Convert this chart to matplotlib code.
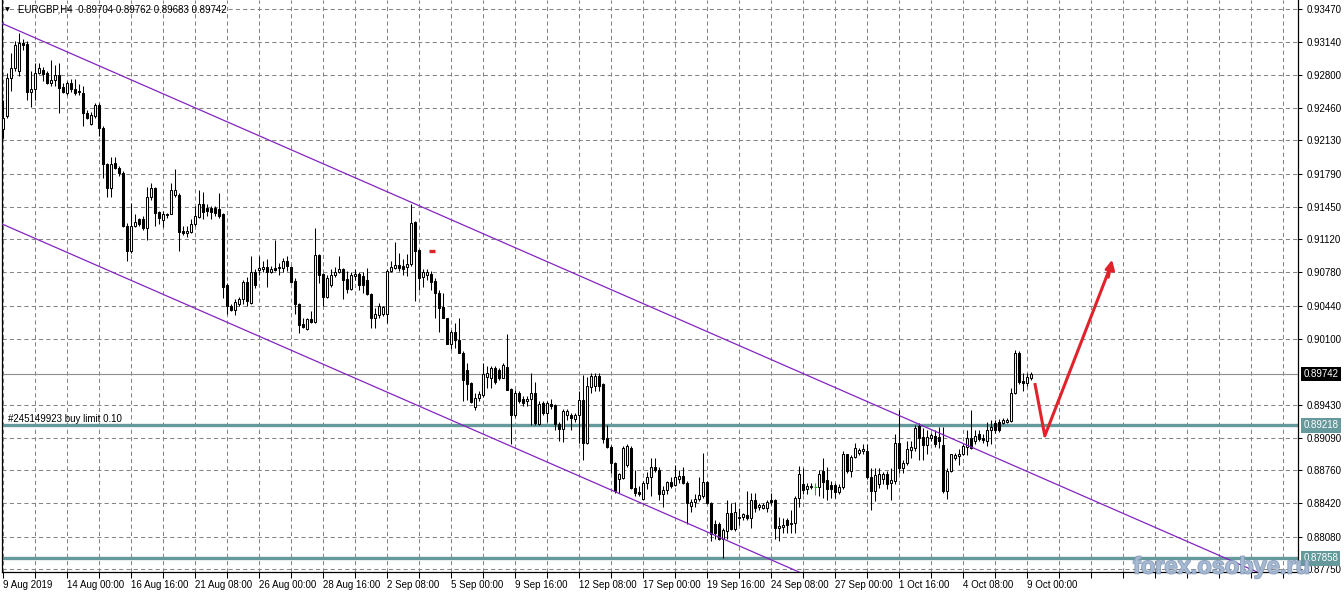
import matplotlib
matplotlib.use("Agg")
import matplotlib.pyplot as plt
import numpy as np
from matplotlib.transforms import blended_transform_factory
import matplotlib.patheffects as pe

plt.rcParams['font.family'] = ['Liberation Sans', 'DejaVu Sans']

title_text = "EURGBP,H4  0.89704 0.89762 0.89683 0.89742"
order_text = "#245149923 buy limit 0.10"
watermark = "forex.osobye.ru"

opens = [
0.9225, 0.9238, 0.9277, 0.9287, 0.9284, 0.9313, 0.9312, 0.9262, 0.9266, 0.9282,
0.9285, 0.9282, 0.9272, 0.9275, 0.9280, 0.9268, 0.9261, 0.9272, 0.9266, 0.9262,
0.9261, 0.9241, 0.9230, 0.9238, 0.9249, 0.9226, 0.9189, 0.9164, 0.9190, 0.9185,
0.9180, 0.9126, 0.9100, 0.9126, 0.9133, 0.9133, 0.9123, 0.9155, 0.9164, 0.9140,
0.9132, 0.9137, 0.9138, 0.9157, 0.9157, 0.9120, 0.9118, 0.9119, 0.9128, 0.9135,
0.9148, 0.9144, 0.9144, 0.9144, 0.9143, 0.9138, 0.9065, 0.9044, 0.9040, 0.9046,
0.9051, 0.9068, 0.9047, 0.9079, 0.9081, 0.9082, 0.9084, 0.9078, 0.9083, 0.9083,
0.9083, 0.9090, 0.9084, 0.9069, 0.9046, 0.9025, 0.9020, 0.9030, 0.9027, 0.9096,
0.9076, 0.9053, 0.9065, 0.9075, 0.9079, 0.9082, 0.9071, 0.9061, 0.9074, 0.9076,
0.9074, 0.9070, 0.9056, 0.9031, 0.9035, 0.9036, 0.9036, 0.9080, 0.9083, 0.9086,
0.9085, 0.9084, 0.9087, 0.9130, 0.9101, 0.9073, 0.9075, 0.9076, 0.9069, 0.9057,
0.9043, 0.9031, 0.9005, 0.9017, 0.9009, 0.8996, 0.8978, 0.8965, 0.8941, 0.8950,
0.8953, 0.8971, 0.8970, 0.8980, 0.8978, 0.8970, 0.8981, 0.8959, 0.8932, 0.8955,
0.8949, 0.8947, 0.8949, 0.8955, 0.8923, 0.8945, 0.8934, 0.8944, 0.8943, 0.8923,
0.8918, 0.8932, 0.8932, 0.8928, 0.8932, 0.8948, 0.8904, 0.8961, 0.8962, 0.8972,
0.8964, 0.8909, 0.8900, 0.8883, 0.8867, 0.8868, 0.8881, 0.8899, 0.8858, 0.8854,
0.8846, 0.8863, 0.8869, 0.8879, 0.8876, 0.8852, 0.8856, 0.8864, 0.8861, 0.8867,
0.8870, 0.8863, 0.8839, 0.8843, 0.8846, 0.8850, 0.8864, 0.8842, 0.8821, 0.8821,
0.8806, 0.8814, 0.8832, 0.8816, 0.8827, 0.8828, 0.8830, 0.8827, 0.8845, 0.8838,
0.8837, 0.8837, 0.8845, 0.8845, 0.8817, 0.8818, 0.8825, 0.8821, 0.8822, 0.8848,
0.8862, 0.8857, 0.8859, 0.8859, 0.8859, 0.8875, 0.8866, 0.8861, 0.8861, 0.8854,
0.8859, 0.8892, 0.8875, 0.8889, 0.8894, 0.8896, 0.8896, 0.8869, 0.8855, 0.8862,
0.8867, 0.8872, 0.8863, 0.8865, 0.8904, 0.8878, 0.8883, 0.8897, 0.8899, 0.8921,
0.8910, 0.8902, 0.8909, 0.8911, 0.8910, 0.8902, 0.8855, 0.8875, 0.8888, 0.8890,
0.8893, 0.8900, 0.8909, 0.8906, 0.8913, 0.8909, 0.8906, 0.8917, 0.8924, 0.8925,
0.8924, 0.8925, 0.8926, 0.8955, 0.8996, 0.8967, 0.8965, 0.89704,
]

highs = [
0.9254, 0.9282, 0.9302, 0.9315, 0.9323, 0.9317, 0.9315, 0.9284, 0.9292, 0.9292,
0.9288, 0.9284, 0.9295, 0.9290, 0.9292, 0.9272, 0.9274, 0.9276, 0.9276, 0.9271,
0.9269, 0.9244, 0.9242, 0.9251, 0.9251, 0.9228, 0.9190, 0.9196, 0.9196, 0.9187,
0.9182, 0.9129, 0.9149, 0.9138, 0.9134, 0.9136, 0.9165, 0.9169, 0.9165, 0.9141,
0.9141, 0.9139, 0.9169, 0.9184, 0.9159, 0.9126, 0.9126, 0.9133, 0.9146, 0.9162,
0.9160, 0.9148, 0.9146, 0.9146, 0.9159, 0.9139, 0.9067, 0.9046, 0.9051, 0.9053,
0.9070, 0.9073, 0.9095, 0.9082, 0.9095, 0.9090, 0.9092, 0.9085, 0.9111, 0.9088,
0.9093, 0.9095, 0.9085, 0.9072, 0.9047, 0.9031, 0.9031, 0.9039, 0.9123, 0.9097,
0.9077, 0.9075, 0.9082, 0.9084, 0.9095, 0.9083, 0.9080, 0.9078, 0.9082, 0.9078,
0.9078, 0.9083, 0.9057, 0.9042, 0.9047, 0.9044, 0.9082, 0.9090, 0.9109, 0.9098,
0.9092, 0.9097, 0.9148, 0.9131, 0.9102, 0.9082, 0.9082, 0.9080, 0.9072, 0.9060,
0.9057, 0.9032, 0.9019, 0.9026, 0.9031, 0.8998, 0.8986, 0.8966, 0.8955, 0.8957,
0.8986, 0.8982, 0.8982, 0.8982, 0.8980, 0.8986, 0.9015, 0.8960, 0.8958, 0.8957,
0.8952, 0.8952, 0.8975, 0.8966, 0.8947, 0.8947, 0.8947, 0.8949, 0.8944, 0.8925,
0.8938, 0.8939, 0.8934, 0.8934, 0.8957, 0.8973, 0.8971, 0.8975, 0.8975, 0.8975,
0.8965, 0.8922, 0.8902, 0.8884, 0.8873, 0.8901, 0.8903, 0.8901, 0.8876, 0.8860,
0.8865, 0.8874, 0.8888, 0.8888, 0.8879, 0.8860, 0.8865, 0.8869, 0.8881, 0.8876,
0.8879, 0.8865, 0.8847, 0.8852, 0.8869, 0.8894, 0.8865, 0.8843, 0.8825, 0.8823,
0.8817, 0.8845, 0.8842, 0.8843, 0.8837, 0.8832, 0.8855, 0.8853, 0.8853, 0.8842,
0.8842, 0.8845, 0.8853, 0.8847, 0.8828, 0.8827, 0.8827, 0.8835, 0.8850, 0.8880,
0.8878, 0.8863, 0.8863, 0.8863, 0.8876, 0.8888, 0.8879, 0.8865, 0.8863, 0.8862,
0.8896, 0.8893, 0.8891, 0.8904, 0.8899, 0.8903, 0.8903, 0.8878, 0.8878, 0.8878,
0.8874, 0.8875, 0.8878, 0.8913, 0.8937, 0.8886, 0.8906, 0.8906, 0.8922, 0.8924,
0.8919, 0.8917, 0.8914, 0.8917, 0.8920, 0.8920, 0.8878, 0.8893, 0.8894, 0.8898,
0.8903, 0.8917, 0.8937, 0.8917, 0.8917, 0.8913, 0.8925, 0.8927, 0.8927, 0.8928,
0.8929, 0.8929, 0.8960, 0.8999, 0.8998, 0.8975, 0.8975, 0.89762,
]

lows = [
0.9215, 0.9236, 0.9264, 0.9284, 0.9279, 0.9305, 0.9254, 0.9247, 0.9254, 0.9281,
0.9274, 0.9271, 0.9269, 0.9269, 0.9241, 0.9261, 0.9259, 0.9262, 0.9259, 0.9259,
0.9228, 0.9235, 0.9229, 0.9236, 0.9218, 0.9175, 0.9155, 0.9155, 0.9184, 0.9177,
0.9124, 0.9090, 0.9098, 0.9124, 0.9126, 0.9121, 0.9111, 0.9152, 0.9126, 0.9128,
0.9124, 0.9134, 0.9138, 0.9155, 0.9100, 0.9116, 0.9114, 0.9118, 0.9126, 0.9134,
0.9133, 0.9136, 0.9133, 0.9136, 0.9134, 0.9052, 0.9036, 0.9039, 0.9035, 0.9044,
0.9046, 0.9044, 0.9046, 0.9062, 0.9075, 0.9078, 0.9063, 0.9077, 0.9080, 0.9075,
0.9078, 0.9080, 0.9067, 0.9036, 0.9016, 0.9021, 0.9019, 0.9026, 0.9026, 0.9067,
0.9044, 0.9052, 0.9063, 0.9073, 0.9077, 0.9051, 0.9057, 0.9060, 0.9070, 0.9060,
0.9057, 0.9055, 0.9021, 0.9021, 0.9031, 0.9034, 0.9026, 0.9078, 0.9082, 0.9080,
0.9075, 0.9074, 0.9085, 0.9049, 0.9060, 0.9063, 0.9070, 0.9060, 0.9032, 0.9017,
0.9031, 0.9005, 0.9000, 0.9001, 0.8996, 0.8947, 0.8948, 0.8945, 0.8937, 0.8947,
0.8951, 0.8960, 0.8960, 0.8964, 0.8968, 0.8970, 0.8958, 0.8903, 0.8930, 0.8945,
0.8942, 0.8942, 0.8922, 0.8922, 0.8922, 0.8932, 0.8925, 0.8939, 0.8917, 0.8906,
0.8905, 0.8927, 0.8917, 0.8925, 0.8904, 0.8886, 0.8903, 0.8955, 0.8957, 0.8957,
0.8904, 0.8899, 0.8873, 0.8853, 0.8853, 0.8867, 0.8879, 0.8857, 0.8850, 0.8850,
0.8845, 0.8857, 0.8850, 0.8874, 0.8845, 0.8838, 0.8852, 0.8858, 0.8860, 0.8863,
0.8862, 0.8821, 0.8833, 0.8838, 0.8844, 0.8848, 0.8841, 0.8804, 0.8806, 0.8805,
0.8786, 0.8806, 0.8815, 0.8814, 0.8820, 0.8825, 0.8825, 0.8817, 0.8833, 0.8835,
0.8836, 0.8833, 0.8840, 0.8806, 0.8804, 0.8812, 0.8812, 0.8812, 0.8812, 0.8838,
0.8852, 0.8852, 0.8857, 0.8851, 0.8850, 0.8848, 0.8845, 0.8848, 0.8848, 0.8852,
0.8857, 0.8873, 0.8869, 0.8888, 0.8891, 0.8893, 0.8867, 0.8835, 0.8844, 0.8858,
0.8862, 0.8857, 0.8845, 0.8862, 0.8873, 0.8873, 0.8881, 0.8888, 0.8896, 0.8886,
0.8886, 0.8892, 0.8906, 0.8900, 0.8899, 0.8853, 0.8846, 0.8874, 0.8886, 0.8881,
0.8891, 0.8891, 0.8898, 0.8903, 0.8906, 0.8904, 0.8901, 0.8903, 0.8914, 0.8915,
0.8923, 0.8924, 0.8925, 0.8954, 0.8964, 0.8957, 0.8962, 0.89683,
]

closes = [
0.9236, 0.9277, 0.9287, 0.9310, 0.9313, 0.9310, 0.9262, 0.9266, 0.9282, 0.9287,
0.9281, 0.9272, 0.9275, 0.9280, 0.9267, 0.9262, 0.9272, 0.9266, 0.9261, 0.9264,
0.9241, 0.9236, 0.9239, 0.9249, 0.9226, 0.9189, 0.9164, 0.9189, 0.9185, 0.9180,
0.9126, 0.9100, 0.9126, 0.9130, 0.9128, 0.9123, 0.9155, 0.9164, 0.9139, 0.9134,
0.9138, 0.9138, 0.9162, 0.9162, 0.9119, 0.9118, 0.9120, 0.9128, 0.9136, 0.9148,
0.9140, 0.9141, 0.9140, 0.9139, 0.9136, 0.9063, 0.9044, 0.9040, 0.9048, 0.9051,
0.9068, 0.9049, 0.9079, 0.9065, 0.9083, 0.9084, 0.9078, 0.9082, 0.9081, 0.9084,
0.9090, 0.9085, 0.9068, 0.9046, 0.9024, 0.9022, 0.9030, 0.9027, 0.9096, 0.9075,
0.9053, 0.9072, 0.9075, 0.9079, 0.9082, 0.9070, 0.9061, 0.9075, 0.9076, 0.9065,
0.9065, 0.9056, 0.9031, 0.9036, 0.9044, 0.9043, 0.9080, 0.9084, 0.9086, 0.9083,
0.9082, 0.9087, 0.9129, 0.9100, 0.9072, 0.9078, 0.9078, 0.9068, 0.9057, 0.9042,
0.9031, 0.9005, 0.9017, 0.9009, 0.8996, 0.8968, 0.8964, 0.8946, 0.8950, 0.8954,
0.8974, 0.8975, 0.8980, 0.8966, 0.8970, 0.8983, 0.8958, 0.8932, 0.8955, 0.8947,
0.8945, 0.8949, 0.8955, 0.8924, 0.8944, 0.8934, 0.8945, 0.8942, 0.8923, 0.8918,
0.8936, 0.8936, 0.8929, 0.8932, 0.8948, 0.8904, 0.8962, 0.8972, 0.8972, 0.8962,
0.8908, 0.8900, 0.8883, 0.8855, 0.8872, 0.8899, 0.8901, 0.8858, 0.8853, 0.8852,
0.8863, 0.8869, 0.8879, 0.8876, 0.8852, 0.8856, 0.8864, 0.8860, 0.8869, 0.8870,
0.8863, 0.8842, 0.8843, 0.8847, 0.8851, 0.8864, 0.8842, 0.8811, 0.8812, 0.8806,
0.8815, 0.8832, 0.8816, 0.8833, 0.8828, 0.8831, 0.8827, 0.8845, 0.8837, 0.8840,
0.8840, 0.8843, 0.8843, 0.8817, 0.8819, 0.8820, 0.8820, 0.8822, 0.8848, 0.8872,
0.8856, 0.8860, 0.8860, 0.8859, 0.8872, 0.8864, 0.8857, 0.8857, 0.8854, 0.8859,
0.8892, 0.8875, 0.8889, 0.8899, 0.8897, 0.8898, 0.8869, 0.8855, 0.8871, 0.8872,
0.8872, 0.8862, 0.8866, 0.8904, 0.8878, 0.8883, 0.8898, 0.8900, 0.8919, 0.8909,
0.8902, 0.8910, 0.8912, 0.8903, 0.8906, 0.8855, 0.8875, 0.8892, 0.8891, 0.8893,
0.8901, 0.8909, 0.8899, 0.8911, 0.8908, 0.8907, 0.8917, 0.8920, 0.8917, 0.8917,
0.8927, 0.8927, 0.8955, 0.8996, 0.8966, 0.8965, 0.8971, 0.89742,
]

price_ticks = [0.93470, 0.93140, 0.92800, 0.92460, 0.92130, 0.91790, 0.91450,
               0.91120, 0.90780, 0.90440, 0.90100, 0.89430, 0.89090, 0.88760,
               0.88420, 0.88080, 0.87750]
date_labels = ["9 Aug 2019", "14 Aug 00:00", "16 Aug 16:00", "21 Aug 08:00",
               "26 Aug 00:00", "28 Aug 16:00", "2 Sep 08:00", "5 Sep 00:00",
               "9 Sep 16:00", "12 Sep 08:00", "17 Sep 00:00", "19 Sep 16:00",
               "24 Sep 08:00", "27 Sep 00:00", "1 Oct 16:00", "4 Oct 08:00",
               "9 Oct 00:00"]
bars_per_label = 16
bars_per_grid = 8
bars_total_view = 324

bid_price = 0.89742
buy_limit_price = 0.89218
support_price = 0.87858
upper_channel = [(0, 0.9332), (300, 0.8796)]
lower_channel = [(0, 0.9127), (200, 0.8770)]
arrow_bars = [257.9, 260.4, 276.9]
arrow_prices = [0.8965, 0.8911, 0.9085]
marker_bar = 107.1
marker_price = 0.9100

W, H = 1344, 593
fig = plt.figure(figsize=(W / 100, H / 100), dpi=100)
fig.patch.set_facecolor('white')
ax = fig.add_axes([2 / W, 21 / H, 1296 / W, 572 / H])
ax.set_facecolor('white')

o = np.array(opens); h = np.array(highs); l = np.array(lows); c = np.array(closes)
idx = np.arange(len(o))
doji = o == c
nd = ~doji

ax.vlines(idx[nd], l[nd], h[nd], color='black', lw=0.75, zorder=3)
faces = np.where(c > o, 'white', 'black')
ax.bar(idx[nd], np.abs(c - o)[nd], bottom=np.minimum(o, c)[nd], width=0.55,
       color=faces[nd], edgecolor='black', linewidth=0.75, zorder=4)
ax.vlines(idx[doji], l[doji], h[doji], color='#00c000', lw=0.75, zorder=3)
ax.hlines(o[doji], idx[doji] - 0.35, idx[doji] + 0.35, color='#00c000', lw=0.75, zorder=3)

# channel
chan_col = '#8424c0'
ax.axline(upper_channel[0], upper_channel[1], color=chan_col, lw=0.9, zorder=5)
ax.axline(lower_channel[0], lower_channel[1], color=chan_col, lw=0.9, zorder=5)

teal = '#66999b'
ax.axhline(buy_limit_price, color=teal, lw=2.4, zorder=2)
ax.axhline(support_price, color=teal, lw=2.4, zorder=2)
ax.axhline(bid_price, color='#8c8c8c', lw=0.8, zorder=2)

red = '#e0232b'
ax.plot(arrow_bars, arrow_prices, color=red, lw=2.2, zorder=6, solid_capstyle='butt')
ax.annotate('', xy=(arrow_bars[-1] + 0.3, arrow_prices[-1] + 0.0006),
            xytext=(arrow_bars[-1] - 0.6, arrow_prices[-1] - 0.0012),
            arrowprops=dict(arrowstyle='-|>', color=red, lw=2.0, mutation_scale=14,
                            shrinkA=0, shrinkB=0), zorder=6)
ax.plot([marker_bar], [marker_price], marker='_', ms=4.5, mew=2.4, color=red, zorder=6)

ax.set_xlim(-0.325, 323.7)
ax.set_ylim(0.87719, 0.93565)

# axes styling
for s in ['left', 'bottom', 'right']:
    ax.spines[s].set_color('black')
    ax.spines[s].set_linewidth(0.9)
ax.spines['top'].set_visible(False)

ax.yaxis.tick_right()
ax.set_yticks(price_ticks)
ax.set_yticklabels([f"{v:.5f}" for v in price_ticks])
ax.tick_params(axis='y', which='both', direction='out', length=3, width=0.75,
               pad=3, labelsize=7, colors='black', left=False)

major_x = list(range(0, bars_per_label * len(date_labels), bars_per_label))
minor_x = list(range(bars_per_grid, bars_total_view, bars_per_grid))
ax.set_xticks(major_x)
ax.set_xticklabels(date_labels, ha='left')
ax.set_xticks(minor_x, minor=True)
ax.tick_params(axis='x', which='both', direction='out', length=4, width=0.75,
               pad=2, labelsize=7, colors='black')
for lab in ax.get_xticklabels():
    lab.set_horizontalalignment('left')

gcol = '#858585'
ax.grid(True, axis='x', which='both', color=gcol, linestyle=(0, (4, 3)), lw=0.75, zorder=1)
ax.grid(True, axis='y', which='major', color=gcol, linestyle=(0, (4, 3)), lw=0.75, zorder=1)
ax.set_axisbelow(True)

# boxed price labels on right axis
trans = blended_transform_factory(ax.transAxes, ax.transData)
for val, bg in [(bid_price, 'black'), (buy_limit_price, teal), (support_price, teal)]:
    ax.text(1.0040, val, f"{val:.5f}", transform=trans, ha='left', va='center',
            fontsize=7, color='white', zorder=20, clip_on=False,
            bbox=dict(boxstyle='square,pad=0.25', fc=bg, ec='none'))

# order label
ax.text(0.0045, buy_limit_price + 0.00012, order_text, transform=trans, ha='left',
        va='bottom', fontsize=7, color='black', zorder=7)

# title
fig.text(4.5 / W, 1 - 9.5 / H, '\u25bc', fontsize=4.5, family='DejaVu Sans',
         va='center', ha='left', color='black')
fig.text(18 / W, 1 - 9.5 / H, title_text, fontsize=7, va='center', ha='left', color='black')

# watermark
fig.text(1133 / W, 1 - 567 / H, watermark, fontsize=17, fontweight='bold',
         color='#a7bad3', alpha=0.85, va='center', ha='left', zorder=30,
         path_effects=[pe.withStroke(linewidth=1.2, foreground='#7f95b5')])

fig.savefig('out.png', dpi=100, facecolor='white')
